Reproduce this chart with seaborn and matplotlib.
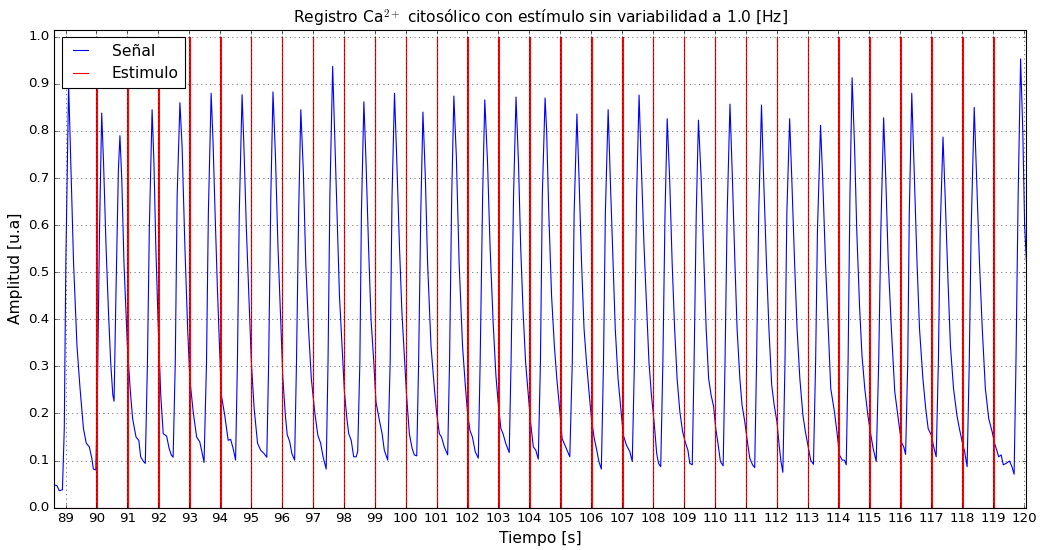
import matplotlib
matplotlib.use("Agg")
import matplotlib.pyplot as plt
import seaborn as sns

# Signal: time [s] and amplitude [u.a]
time_s = [
    88.63, 88.72, 88.80, 88.90, 88.96, 89.01, 89.10, 89.17, 89.26, 89.37,
    89.47, 89.58, 89.67, 89.77, 89.85, 89.90, 89.98, 90.03, 90.10, 90.17,
    90.23, 90.31, 90.39, 90.46, 90.53, 90.57, 90.63, 90.71, 90.76, 90.82,
    90.89, 91.00, 91.09, 91.17, 91.28, 91.37, 91.43, 91.52, 91.58, 91.65,
    91.71, 91.80, 91.86, 91.92, 92.00, 92.08, 92.16, 92.27, 92.35, 92.42,
    92.48, 92.55, 92.61, 92.70, 92.77, 92.86, 92.95, 93.02, 93.13, 93.24,
    93.34, 93.41, 93.48, 93.56, 93.62, 93.71, 93.77, 93.84, 93.91, 93.97,
    94.04, 94.15, 94.26, 94.34, 94.42, 94.50, 94.56, 94.62, 94.71, 94.77,
    94.85, 94.93, 95.01, 95.10, 95.21, 95.31, 95.42, 95.51, 95.57, 95.64,
    95.71, 95.79, 95.87, 95.96, 96.03, 96.11, 96.17, 96.25, 96.32, 96.41,
    96.47, 96.54, 96.61, 96.69, 96.77, 96.86, 96.95, 97.06, 97.16, 97.25,
    97.33, 97.43, 97.49, 97.55, 97.64, 97.70, 97.78, 97.86, 97.95, 98.02,
    98.10, 98.16, 98.24, 98.32, 98.40, 98.45, 98.52, 98.57, 98.65, 98.72,
    98.80, 98.88, 98.97, 99.04, 99.15, 99.24, 99.31, 99.42, 99.50, 99.56,
    99.64, 99.71, 99.80, 99.88, 99.97, 100.03, 100.12, 100.21, 100.28, 100.36,
    100.42, 100.49, 100.56, 100.64, 100.71, 100.82, 100.93, 101.00, 101.09, 101.16,
    101.25, 101.36, 101.42, 101.49, 101.56, 101.64, 101.73, 101.84, 101.93, 102.00,
    102.08, 102.16, 102.25, 102.35, 102.41, 102.49, 102.56, 102.65, 102.73, 102.83,
    102.92, 102.99, 103.08, 103.15, 103.24, 103.35, 103.41, 103.49, 103.57, 103.65,
    103.72, 103.80, 103.88, 103.97, 104.04, 104.13, 104.21, 104.29, 104.36, 104.42,
    104.51, 104.56, 104.63, 104.72, 104.81, 104.89, 104.99, 105.06, 105.15, 105.24,
    105.31, 105.39, 105.45, 105.54, 105.61, 105.69, 105.77, 105.85, 105.94, 106.01,
    106.10, 106.17, 106.25, 106.33, 106.40, 106.46, 106.55, 106.62, 106.71, 106.78,
    106.87, 106.96, 107.04, 107.14, 107.25, 107.33, 107.40, 107.47, 107.55, 107.62,
    107.71, 107.80, 107.87, 107.95, 108.04, 108.12, 108.18, 108.25, 108.32, 108.39,
    108.46, 108.54, 108.62, 108.70, 108.78, 108.87, 108.96, 109.04, 109.13, 109.19,
    109.27, 109.33, 109.40, 109.47, 109.56, 109.65, 109.72, 109.80, 109.88, 109.96,
    110.03, 110.11, 110.18, 110.27, 110.33, 110.40, 110.49, 110.57, 110.65, 110.72,
    110.81, 110.88, 110.97, 111.04, 111.13, 111.22, 111.29, 111.35, 111.42, 111.51,
    111.58, 111.67, 111.75, 111.84, 111.92, 112.01, 112.08, 112.14, 112.20, 112.27,
    112.33, 112.42, 112.49, 112.58, 112.66, 112.75, 112.85, 112.93, 113.02, 113.10,
    113.19, 113.26, 113.32, 113.42, 113.49, 113.58, 113.67, 113.75, 113.87, 113.95,
    114.03, 114.12, 114.19, 114.25, 114.31, 114.37, 114.44, 114.52, 114.59, 114.68,
    114.76, 114.85, 114.95, 115.03, 115.12, 115.22, 115.30, 115.37, 115.46, 115.53,
    115.61, 115.71, 115.82, 115.92, 116.03, 116.11, 116.17, 116.24, 116.29, 116.37,
    116.44, 116.54, 116.62, 116.73, 116.82, 116.90, 117.00, 117.09, 117.16, 117.23,
    117.29, 117.38, 117.45, 117.54, 117.62, 117.72, 117.83, 117.91, 118.00, 118.08,
    118.16, 118.23, 118.29, 118.39, 118.47, 118.56, 118.65, 118.75, 118.86, 118.97,
    119.05, 119.12, 119.18, 119.26, 119.33, 119.42, 119.53, 119.61, 119.68, 119.74,
    119.81, 119.89, 119.96, 120.02, 120.08,
]
amplitude = [
    0.048, 0.047, 0.036, 0.038, 0.168, 0.520, 0.900, 0.732, 0.520, 0.344,
    0.253, 0.168, 0.137, 0.129, 0.105, 0.082, 0.080, 0.239, 0.590, 0.838,
    0.732, 0.556, 0.415, 0.309, 0.239, 0.226, 0.450, 0.718, 0.790, 0.697,
    0.520, 0.344, 0.253, 0.189, 0.150, 0.143, 0.108, 0.098, 0.094, 0.309,
    0.590, 0.845, 0.732, 0.556, 0.380, 0.239, 0.157, 0.152, 0.126, 0.112,
    0.107, 0.309, 0.661, 0.860, 0.767, 0.556, 0.380, 0.274, 0.203, 0.150,
    0.140, 0.119, 0.096, 0.309, 0.626, 0.880, 0.780, 0.620, 0.470, 0.360,
    0.239, 0.196, 0.143, 0.145, 0.126, 0.101, 0.309, 0.626, 0.877, 0.767,
    0.590, 0.450, 0.309, 0.211, 0.137, 0.122, 0.115, 0.107, 0.309, 0.661,
    0.883, 0.746, 0.556, 0.394, 0.274, 0.196, 0.155, 0.140, 0.115, 0.101,
    0.309, 0.626, 0.845, 0.718, 0.520, 0.380, 0.274, 0.203, 0.154, 0.137,
    0.108, 0.082, 0.309, 0.661, 0.937, 0.802, 0.626, 0.450, 0.337, 0.246,
    0.189, 0.157, 0.143, 0.108, 0.108, 0.119, 0.309, 0.626, 0.862, 0.732,
    0.556, 0.401, 0.309, 0.225, 0.186, 0.157, 0.122, 0.101, 0.309, 0.661,
    0.880, 0.746, 0.556, 0.415, 0.309, 0.239, 0.157, 0.126, 0.112, 0.110,
    0.309, 0.626, 0.840, 0.697, 0.520, 0.344, 0.253, 0.203, 0.157, 0.150,
    0.129, 0.112, 0.309, 0.661, 0.874, 0.746, 0.520, 0.344, 0.260, 0.203,
    0.164, 0.150, 0.119, 0.105, 0.309, 0.661, 0.866, 0.732, 0.556, 0.394,
    0.281, 0.225, 0.168, 0.157, 0.136, 0.117, 0.309, 0.661, 0.872, 0.732,
    0.556, 0.415, 0.309, 0.239, 0.182, 0.129, 0.122, 0.103, 0.309, 0.661,
    0.870, 0.802, 0.626, 0.450, 0.344, 0.274, 0.203, 0.147, 0.133, 0.119,
    0.108, 0.309, 0.626, 0.836, 0.697, 0.520, 0.380, 0.309, 0.239, 0.189,
    0.147, 0.126, 0.098, 0.082, 0.309, 0.626, 0.845, 0.697, 0.520, 0.380,
    0.274, 0.211, 0.154, 0.133, 0.119, 0.098, 0.309, 0.661, 0.876, 0.732,
    0.556, 0.415, 0.309, 0.239, 0.179, 0.115, 0.094, 0.087, 0.309, 0.626,
    0.826, 0.697, 0.520, 0.380, 0.274, 0.203, 0.161, 0.140, 0.122, 0.094,
    0.091, 0.309, 0.626, 0.823, 0.697, 0.520, 0.380, 0.274, 0.239, 0.215,
    0.168, 0.133, 0.098, 0.089, 0.309, 0.626, 0.857, 0.697, 0.520, 0.380,
    0.274, 0.218, 0.182, 0.147, 0.105, 0.091, 0.085, 0.309, 0.626, 0.855,
    0.697, 0.520, 0.380, 0.260, 0.218, 0.182, 0.133, 0.098, 0.075, 0.309,
    0.626, 0.826, 0.697, 0.520, 0.380, 0.274, 0.196, 0.161, 0.129, 0.101,
    0.092, 0.309, 0.590, 0.812, 0.697, 0.520, 0.380, 0.253, 0.203, 0.161,
    0.112, 0.101, 0.101, 0.091, 0.309, 0.661, 0.913, 0.767, 0.590, 0.429,
    0.323, 0.253, 0.196, 0.161, 0.126, 0.098, 0.309, 0.590, 0.828, 0.697,
    0.520, 0.380, 0.246, 0.196, 0.140, 0.129, 0.113, 0.309, 0.626, 0.880,
    0.732, 0.520, 0.380, 0.274, 0.211, 0.168, 0.154, 0.126, 0.108, 0.309,
    0.590, 0.787, 0.661, 0.485, 0.344, 0.253, 0.196, 0.168, 0.140, 0.119,
    0.087, 0.309, 0.590, 0.850, 0.697, 0.520, 0.380, 0.253, 0.189, 0.161,
    0.136, 0.122, 0.108, 0.112, 0.091, 0.094, 0.099, 0.087, 0.071, 0.309,
    0.661, 0.953, 0.802, 0.600, 0.520,
]

# Stimulus: 1.0 Hz pulse train, one narrow pulse per second
stim_onsets = [90, 91, 92, 93, 94, 95, 96, 97, 98, 99,
               100, 101, 102, 103, 104, 105, 106, 107, 108, 109,
               110, 111, 112, 113, 114, 115, 116, 117, 118, 119]
stim_level = 1.0
pulse_width = 0.015

stim_t = [time_s[0]]
stim_y = [0.0]
for t0 in stim_onsets:
    stim_t += [t0, t0, t0 + pulse_width, t0 + pulse_width]
    stim_y += [0.0, stim_level, stim_level, 0.0]
stim_t.append(time_s[-1])
stim_y.append(0.0)

plt.style.use("classic")
plt.rcParams["font.family"] = ["DejaVu Sans"]

fig = plt.figure(figsize=(13, 6.875), dpi=80, facecolor="white")
ax = fig.add_axes([0.052, 0.077, 0.935, 0.869])

sns.lineplot(x=time_s, y=amplitude, color="b", linewidth=1.0,
             estimator=None, sort=False, ax=ax)
sns.lineplot(x=stim_t, y=stim_y, color="r", linewidth=1.0,
             estimator=None, sort=False, ax=ax)

ax.set_xlim(time_s[0], time_s[-1])
ax.set_ylim(0, 1.015)
ax.set_xticks(range(89, 121))
ax.set_yticks([i / 10 for i in range(11)])
ax.grid(True)
ax.tick_params(labelsize=12)

ax.set_title("Registro Ca$^{2+}$ citosólico con estímulo sin variabilidad a 1.0 [Hz]",
             fontsize=14)
ax.set_xlabel("Tiempo [s]", fontsize=14)
ax.set_ylabel("Amplitud [u.a]", fontsize=14)
ax.legend(ax.lines[:2], ["Señal", "Estimulo"], loc="upper left", fontsize=14,
          handlelength=1.6, handletextpad=1.2)

fig.savefig("out.png", dpi=80, facecolor="white")
